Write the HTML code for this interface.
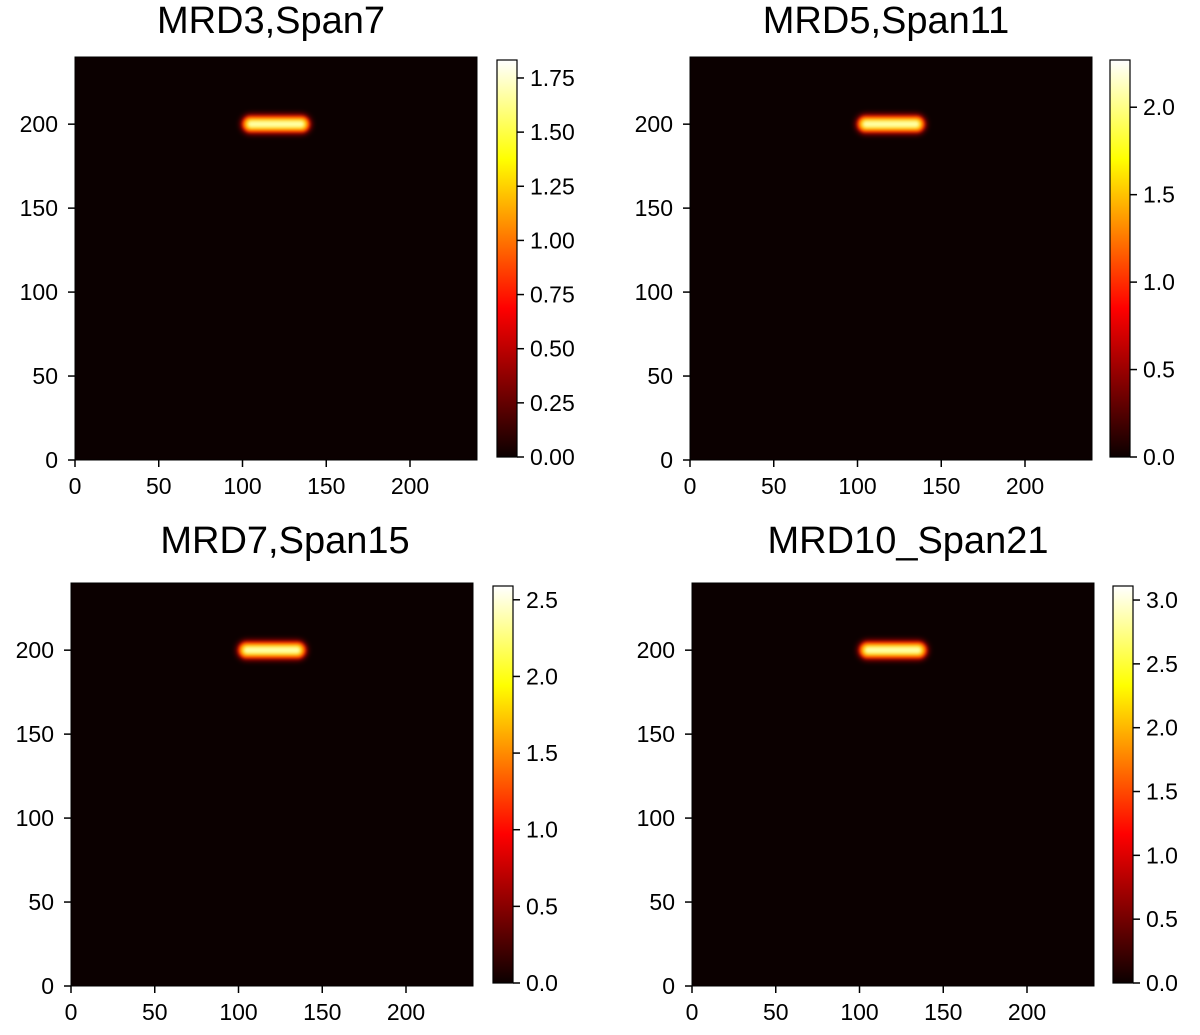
<!DOCTYPE html>
<html><head><meta charset="utf-8"><style>
html,body{margin:0;padding:0;background:#fff;}
svg text{font-family:"Liberation Sans",sans-serif;fill:#000;}
</style></head><body>
<svg id="fig" width="1200" height="1030" xmlns="http://www.w3.org/2000/svg">
<defs>
<linearGradient id="hot" x1="0" y1="1" x2="0" y2="0">
<stop offset="0" stop-color="#0b0000"/>
<stop offset="0.375" stop-color="#ff0000"/>
<stop offset="0.75" stop-color="#ffff00"/>
<stop offset="1" stop-color="#ffffff"/>
</linearGradient>
<filter id="b1" x="-50%" y="-200%" width="200%" height="500%"><feGaussianBlur stdDeviation="3"/></filter>
<filter id="b2" x="-50%" y="-200%" width="200%" height="500%"><feGaussianBlur stdDeviation="1.6"/></filter>
</defs>
</svg>
<script>
const titles = ["MRD3,Span7","MRD5,Span11","MRD7,Span15","MRD10_Span21"];
const vmax = [1.833, 2.27, 2.59, 3.11];
const cbTicks = [[0,0.25,0.5,0.75,1,1.25,1.5,1.75],[0,0.5,1,1.5,2],[0,0.5,1,1.5,2,2.5],[0,0.5,1,1.5,2,2.5,3]];
const cbDecimals = [2,1,1,1];
const xTicks = [0,50,100,150,200];
const yTicks = [0,50,100,150,200];
const blobX0 = [100,100,100,100];
const blobX1 = [140,140,140,140];
const blobY = [200,200,200,200];
const layout = [
 {px:75,py:57,cbx:497,cby:60,tx:271,ty:33},
 {px:690,py:57,cbx:1110,cby:60,tx:886,ty:33},
 {px:71,py:583,cbx:493,cby:586,tx:285,ty:553},
 {px:692,py:583,cbx:1113,cby:586,tx:908,ty:553}
];
const W=402,H=403,CBW=20,CBH=397,XMAX=240,YMAX=240;
const svg=document.getElementById('fig');
const NS='http://www.w3.org/2000/svg';
function mk(tag,attrs,parent){const e=document.createElementNS(NS,tag);for(const k in attrs)e.setAttribute(k,attrs[k]);(parent||svg).appendChild(e);return e;}
titles.forEach((t,i)=>{
 const L=layout[i];
 const g=mk('g',{});
 
 
 const sx=v=>L.px+v/XMAX*W, sy=v=>L.py+H-v/YMAX*H;
 const tt=mk('text',{x:L.tx,y:L.ty,'font-size':38,'text-anchor':'middle'},g);tt.textContent=t;
 
 
 const bg=mk('rect',{x:L.px,y:L.py,width:W,height:H,fill:'#0b0000',stroke:'#000','stroke-width':1},g);
 
 
 const x0=sx(blobX0[i]),x1=sx(blobX1[i]),yc=sy(blobY[i]);
 const bl=mk('g',{},g);
 
 
 mk('rect',{x:x0-2,y:yc-10,width:x1-x0+4,height:20,rx:10,fill:'#c00000',filter:'url(#b1)'},bl);
 mk('rect',{x:x0,y:yc-8,width:x1-x0,height:16,rx:8,fill:'#ff4000',filter:'url(#b2)'},bl);
 mk('rect',{x:x0+2,y:yc-6,width:x1-x0-4,height:12,rx:6,fill:'#ffc000',filter:'url(#b2)'},bl);
 mk('rect',{x:x0+5,y:yc-3.5,width:x1-x0-10,height:7,rx:3.5,fill:'#ffffa0',filter:'url(#b2)'},bl);
 xTicks.forEach(v=>{const x=sx(v);mk('line',{x1:x,x2:x,y1:L.py+H,y2:L.py+H+7,stroke:'#000','stroke-width':1.5},g);
  const tx=mk('text',{x:x,y:L.py+H+34,'font-size':23,'text-anchor':'middle'},g);tx.textContent=v;
  
  });
 yTicks.forEach(v=>{const y=sy(v);mk('line',{x1:L.px-7,x2:L.px,y1:y,y2:y,stroke:'#000','stroke-width':1.5},g);
  const ty=mk('text',{x:L.px-17,y:y+8,'font-size':23,'text-anchor':'end'},g);ty.textContent=v;
  
  });
 const cb=mk('rect',{x:L.cbx,y:L.cby,width:CBW,height:CBH,fill:'url(#hot)',stroke:'#000','stroke-width':1.2},g);
 
 
 cbTicks[i].forEach(v=>{const y=L.cby+CBH-v/vmax[i]*CBH;
  mk('line',{x1:L.cbx+CBW,x2:L.cbx+CBW+7,y1:y,y2:y,stroke:'#000','stroke-width':1.5},g);
  const c=mk('text',{x:L.cbx+CBW+13,y:y+8,'font-size':23},g);c.textContent=v.toFixed(cbDecimals[i]);
  
  });
});
</script>
</body></html>
